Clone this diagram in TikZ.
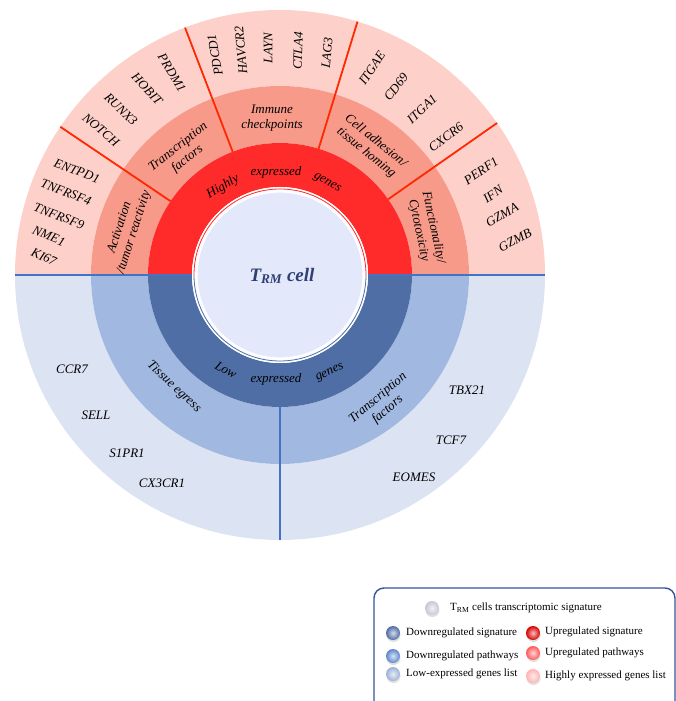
\documentclass[tikz,border=0pt]{standalone}
\usepackage{fontspec}
\setmainfont{Liberation Serif}
\usetikzlibrary{shadows}
\definecolor{pinkout}{HTML}{FDD1C9}
\definecolor{salmon}{HTML}{F79A8A}
\definecolor{redband}{HTML}{FF2B2B}
\definecolor{blueout}{HTML}{DCE3F2}
\definecolor{bluemid}{HTML}{A1B8E0}
\definecolor{bluein}{HTML}{4F6EA5}
\definecolor{discc}{HTML}{E3E8FA}
\definecolor{sepred}{HTML}{FF2800}
\definecolor{sepblue}{HTML}{4472C4}
\definecolor{trmtext}{HTML}{2E3F74}
\definecolor{legborder}{HTML}{34559A}
\newcommand{\annsec}[5]{\fill[#1] (#2:#4pt) arc[start angle=#2,end angle=#3,radius=#4pt] -- (#3:#5pt) arc[start angle=#3,end angle=#2,radius=#5pt] -- cycle;}
\begin{document}
\begin{tikzpicture}[x=1pt,y=1pt,
  gene/.style={font=\fontsize{13}{14}\selectfont\itshape, inner sep=0pt},
  pathw/.style={font=\fontsize{13}{15}\selectfont\itshape, align=center, inner sep=0pt},
  sig/.style={font=\fontsize{13}{14}\selectfont\itshape, inner sep=0pt},
  leg/.style={font=\fontsize{11}{13}\selectfont, anchor=west, inner sep=0pt},
  ball/.style={circle, minimum size=14pt, inner sep=0pt, shading=radial,
    inner color=#1!25!white, outer color=#1,
    drop shadow={opacity=0.25, shadow xshift=0.5pt, shadow yshift=-2pt}},
  redsep/.style={draw=sepred, line width=1.8pt},
  bluesep/.style={draw=sepblue, line width=2pt}]
\useasboundingbox (-280,-426) rectangle (396,275);
% rings
\annsec{pinkout}{0}{180}{189}{265}
\annsec{salmon}{0}{180}{132}{189}
\annsec{redband}{0}{180}{88}{132}
\annsec{blueout}{180}{360}{189}{265}
\annsec{bluemid}{180}{360}{132}{189}
\annsec{bluein}{180}{360}{88}{132}
% centre disc
\fill[white] (0,0) circle[radius=88pt];
\draw[redband, line width=0.8pt] (0:86pt) arc[start angle=0,end angle=180,radius=86pt];
\draw[bluein, line width=0.8pt] (180:86pt) arc[start angle=180,end angle=360,radius=86pt];
\fill[discc] (0,0) circle[radius=84pt];
\draw[white, line width=1.6pt] (0,0) circle[radius=83.2pt];
% separators
\coordinate (ra1) at (35:132pt); \coordinate (rb1) at (35:265pt);
\coordinate (ra2) at (73:132pt); \coordinate (rb2) at (73:265pt);
\coordinate (ra3) at (111:132pt); \coordinate (rb3) at (111:265pt);
\coordinate (ra4) at (146:132pt); \coordinate (rb4) at (146:265pt);
\draw[redsep] (ra1) -- (rb1);
\draw[redsep] (ra2) -- (rb2);
\draw[redsep] (ra3) -- (rb3);
\draw[redsep] (ra4) -- (rb4);
\coordinate (hl1) at (-265,0); \coordinate (hl2) at (-88,0);
\coordinate (hr1) at (88,0); \coordinate (hr2) at (265,0);
\coordinate (v1) at (0,-132); \coordinate (v2) at (0,-265);
\draw[bluesep] (hl1) -- (hl2);
\draw[bluesep] (hr1) -- (hr2);
\draw[bluesep] (v1) -- (v2);
% centre title
\node[font=\fontsize{19}{21}\selectfont\bfseries\itshape, text=trmtext] (trm) at (2,-1) {T\textsubscript{RM} cell};
% signature ring words
\node[sig, rotate=31] (hi1) at (-57,88) {Highly};
\node[sig] (hi2) at (-4,103) {expressed};
\node[sig, rotate=-30] (hi3) at (47,92) {genes};
\node[sig, rotate=-30] (lo1) at (-54,-95) {Low};
\node[sig] (lo2) at (-4,-104) {expressed};
\node[sig, rotate=25] (lo3) at (50,-98) {genes};
% pathways
\node[pathw, rotate=72] (p1) at (-153,45) {Activation\\/tumor reactivity};
\node[pathw, rotate=38] (p2) at (-97,122) {Transcription\\factors};
\node[pathw] (p3) at (-8,157) {Immune\\checkpoints};
\node[pathw, rotate=-39] (p4) at (91,128) {Cell adhesion/\\tissue homing};
\node[pathw, rotate=-78] (p5) at (146,46) {Functionality/\\Cytotoxicity};
\node[pathw, rotate=-43] (p6) at (-106,-112) {Tissue egress};
\node[pathw, rotate=40] (p7) at (103,-129) {Transcription\\factors};
% genes: activation
\node[gene, rotate=-21] (g1) at (-203,104) {ENTPD1};
\node[gene, rotate=-21] (g2) at (-214,83) {TNFRSF4};
\node[gene, rotate=-21] (g3) at (-221,59) {TNFRSF9};
\node[gene, rotate=-23] (g4) at (-231,39) {NME1};
\node[gene, rotate=-24] (g5) at (-236,18) {KI67};
% transcription factors
\node[gene, rotate=-40] (g6) at (-179,145) {NOTCH};
\node[gene, rotate=-44] (g7) at (-159,166) {RUNX3};
\node[gene, rotate=-47] (g8) at (-133,186) {HOBIT};
\node[gene, rotate=-59] (g9) at (-108,202) {PRDM1};
% checkpoints
\node[gene, rotate=100] (g10) at (-65,220) {PDCD1};
\node[gene, rotate=95] (g11) at (-39,225) {HAVCR2};
\node[gene, rotate=90] (g12) at (-12,227) {LAYN};
\node[gene, rotate=88] (g13) at (18,224) {CTLA4};
\node[gene, rotate=85] (g14) at (47,222) {LAG3};
% adhesion
\node[gene, rotate=56] (g15) at (92,207) {ITGAE};
\node[gene, rotate=52] (g16) at (116,188) {CD69};
\node[gene, rotate=43] (g17) at (142,166) {ITGA1};
\node[gene, rotate=37] (g18) at (166,138) {CXCR6};
% cytotoxicity
\node[gene, rotate=34] (g19) at (201,104) {PERF1};
\node[gene, rotate=35] (g20) at (213,81) {IFN};
\node[gene, rotate=30] (g21) at (222,60) {GZMA};
\node[gene, rotate=28] (g22) at (235,35) {GZMB};
% low expressed
\node[gene] (g23) at (-208,-94) {CCR7};
\node[gene] (g24) at (-184,-140) {SELL};
\node[gene] (g25) at (-153,-178) {S1PR1};
\node[gene] (g26) at (-118,-208) {CX3CR1};
\node[gene] (g27) at (187,-115) {TBX21};
\node[gene] (g28) at (171,-165) {TCF7};
\node[gene] (g29) at (134,-202) {EOMES};
% legend
\draw[legborder, line width=1.4pt, rounded corners=10pt] (94,-313) rectangle (395,-445);
\node[ball=discc!70!gray] (b0) at (152,-333) {};
\node[leg] (t0) at (170,-333) {T\textsubscript{RM} cells transcriptomic signature};
\node[ball=bluein] (b1) at (113,-358) {};
\node[leg] (t1) at (126,-358) {Downregulated signature};
\node[ball=sepblue!85!white] (b2) at (113,-381) {};
\node[leg] (t2) at (126,-381) {Downregulated pathways};
\node[ball=bluemid!90!gray] (b3) at (113,-399) {};
\node[leg] (t3) at (126,-399) {Low-expressed genes list};
\node[ball=red!85!black] (b4) at (253,-358) {};
\node[leg] (t4) at (265,-357) {Upregulated signature};
\node[ball=red!65!white] (b5) at (253,-378) {};
\node[leg] (t5) at (265,-378) {Upregulated pathways};
\node[ball=red!30!white] (b6) at (253,-401) {};
\node[leg] (t6) at (265,-401) {Highly expressed genes list};
\end{tikzpicture}
\end{document}
